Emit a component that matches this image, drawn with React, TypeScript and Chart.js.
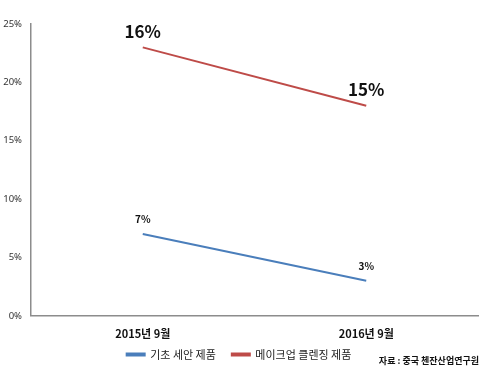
import React, { useEffect, useRef } from "react";
import { Chart, registerables } from "chart.js";

Chart.register(...registerables);

const categories = ["2015년 9월", "2016년 9월"];
const basicCleansing = [7, 3];
const makeupCleansing = [23, 18];
const basicLabels = ["7%", "3%"];
const makeupLabels = ["16%", "15%"];
const seriesNames = ["기초 세안 제품", "메이크업 클렌징 제품"];
const sourceText = "자료 : 중국 첸잔산업연구원";

const FONT = "'Noto Sans CJK KR', 'Noto Sans', sans-serif";

const labelPlugin = {
  id: "valueLabels",
  afterDatasetsDraw(chart: any) {
    const ctx = chart.ctx;
    const sets = [
      { idx: 0, labels: basicLabels, size: 10, offset: 15 },
      { idx: 1, labels: makeupLabels, size: 17, offset: 16 },
    ];
    ctx.save();
    ctx.fillStyle = "#111";
    ctx.textAlign = "center";
    ctx.textBaseline = "middle";
    sets.forEach((s) => {
      const meta = chart.getDatasetMeta(s.idx);
      meta.data.forEach((pt: any, i: number) => {
        ctx.font = `bold ${s.size}px ${FONT}`;
        ctx.fillText(s.labels[i], pt.x, pt.y - s.offset);
      });
    });
    ctx.font = `bold 9px ${FONT}`;
    ctx.textAlign = "right";
    ctx.fillStyle = "#111";
    ctx.fillText(sourceText, 479, 361);
    ctx.restore();
  },
};

export default function App() {
  const ref = useRef<HTMLCanvasElement>(null);
  useEffect(() => {
    document.body.style.margin = "0";
    const chart = new Chart(ref.current!, {
      type: "line",
      data: {
        labels: categories,
        datasets: [
          {
            label: seriesNames[0],
            data: basicCleansing,
            borderColor: "#4a7ebb",
            backgroundColor: "#4a7ebb",
            borderWidth: 2,
            pointRadius: 0,
          },
          {
            label: seriesNames[1],
            data: makeupCleansing,
            borderColor: "#be4b48",
            backgroundColor: "#be4b48",
            borderWidth: 2,
            pointRadius: 0,
          },
        ],
      },
      options: {
        animation: false,
        responsive: false,
        layout: { padding: { top: 24, right: 7, left: 0, bottom: 1 } },
        plugins: {
          tooltip: { enabled: false },
          legend: {
            position: "bottom",
            labels: {
              boxWidth: 18,
              boxHeight: 2,
              padding: 5,
              color: "#222",
              font: { family: FONT, size: 11 },
              generateLabels(c: any) {
                const items = Chart.defaults.plugins.legend.labels.generateLabels(c);
                if (items[0]) items[0].text = items[0].text + "\u2002\u2002";
                return items;
              },
            },
          },
        },
        scales: {
          x: {
            offset: true,
            grid: { display: false, drawTicks: false },
            border: { color: "#8c8c8c", width: 1.5 },
            afterFit(scale: any) {
              scale.height = scale.height - 7;
            },
            ticks: {
              color: "#111",
              padding: 11,
              font: { family: FONT, size: 11, weight: "bold" },
            },
          },
          y: {
            min: 0,
            max: 25,
            grid: { display: false, drawTicks: false },
            border: { color: "#8c8c8c", width: 1.5 },
            afterFit(scale: any) {
              scale.width = 31;
            },
            ticks: {
              stepSize: 5,
              color: "#333",
              padding: 9,
              font: { family: "'Noto Sans', sans-serif", size: 9.5 },
              callback: (v: any) => v + "%",
            },
          },
        },
      },
      plugins: [labelPlugin],
    });
    return () => chart.destroy();
  }, []);
  return (
    <div style={{ width: 485, height: 371, background: "#fff" }}>
      <canvas ref={ref} width={485} height={371} />
    </div>
  );
}
